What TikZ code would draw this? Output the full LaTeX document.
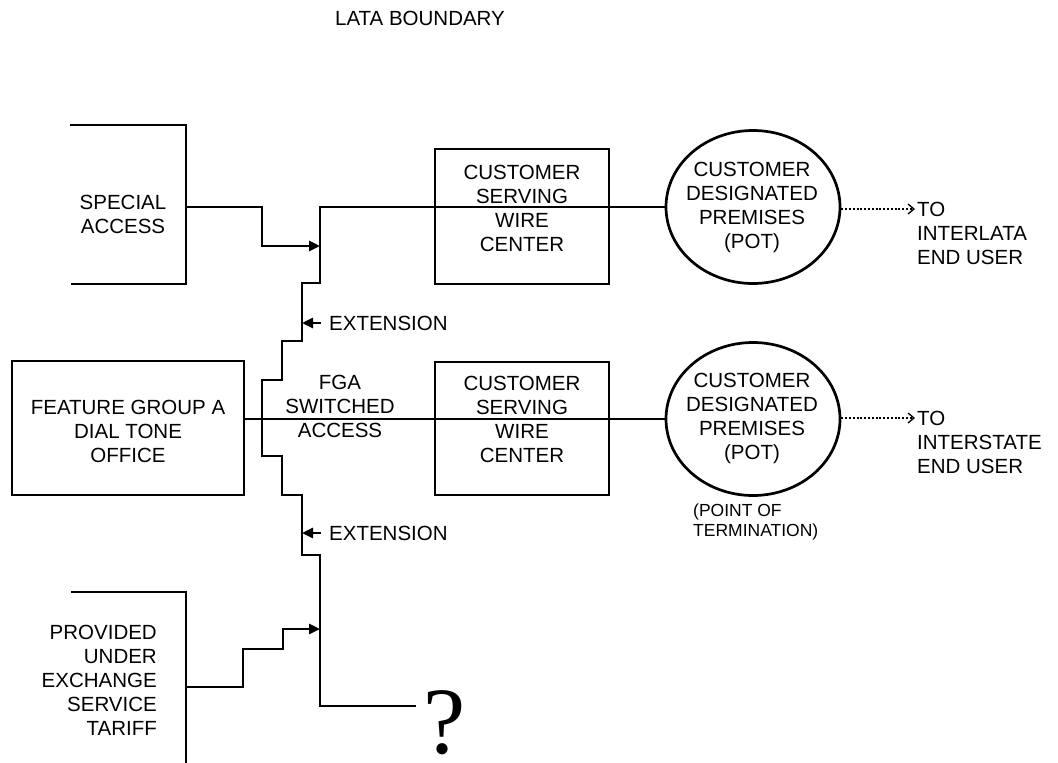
\documentclass[tikz,border=0pt]{standalone}
\usepackage{fontspec}
\setmainfont{Liberation Sans}
\newfontfamily\serifq{Liberation Serif}
\usetikzlibrary{shapes.geometric,arrows.meta}
\begin{document}
\begin{tikzpicture}[x=1pt,y=-1pt,
  ln/.style={line width=2.7pt},
  txt/.style={font=\fontsize{20.5}{24}\selectfont, align=center, inner sep=0pt},
  smalltxt/.style={font=\fontsize{17.5}{20}\selectfont, align=left, inner sep=0pt},
  boxnode/.style={ln, draw, rectangle, inner sep=0pt, minimum width=174pt},
  ovalnode/.style={ln, draw, ellipse, inner sep=0pt, minimum width=174pt, minimum height=153pt},
  tipline/.style={ln, -{Triangle[length=11pt,width=10pt]}},
  dotline/.style={line width=2.6pt, dash pattern=on 2pt off 1.8pt,
    -{Straight Barb[length=6pt,width=10pt,line width=1.3pt]}}
]
\useasboundingbox (0,0) rectangle (1058,763);

% title
\node[txt] (lata) at (420,18) {LATA BOUNDARY};

% special access bracket
\coordinate (saA) at (70,125);
\coordinate (saB) at (186,125);
\coordinate (saC) at (186,284);
\coordinate (saD) at (71,284);
\draw[ln] (saA) -- (saB) -- (saC) -- (saD);
\node[txt] (satext) at (123,214) {SPECIAL\\ACCESS};
\coordinate (saOut) at (186,207);

% provided under exchange bracket
\coordinate (peA) at (71,592);
\coordinate (peB) at (186,592);
\coordinate (peC) at (186,763);
\draw[ln] (peA) -- (peB) -- (peC);
\node[txt, align=right, anchor=east] (petext) at (157,680) {PROVIDED\\UNDER\\EXCHANGE\\SERVICE\\TARIFF};
\coordinate (peOut) at (186,687);

% feature group A box
\node[boxnode, minimum width=232pt, minimum height=134pt] (fga) at (128,428) {};
\node[txt] (fgatext) at (128,431) {FEATURE GROUP A\\DIAL TONE\\OFFICE};

% wire centers
\node[boxnode, minimum height=135pt] (wc1) at (522,216.5) {};
\node[txt] (wc1text) at (522,208) {CUSTOMER\\SERVING\\WIRE\\CENTER};
\node[boxnode, minimum height=133pt] (wc2) at (522,428.5) {};
\node[txt] (wc2text) at (522,419.5) {CUSTOMER\\SERVING\\WIRE\\CENTER};

% premises ellipses
\node[ovalnode] (e1) at (753,207) {};
\node[txt] (e1text) at (752,207) {CUSTOMER\\DESIGNATED\\PREMISES\\(POT)};
\node[ovalnode] (e2) at (753,419) {};
\node[txt] (e2text) at (752,418) {CUSTOMER\\DESIGNATED\\PREMISES\\(POT)};
\node[smalltxt, anchor=north west] (pot) at (693,504) {(POINT OF\\TERMINATION)};

% end user labels
\node[txt, align=left, anchor=west] (eu1) at (917,233) {TO\\INTERLATA\\END USER};
\node[txt, align=left, anchor=west] (eu2) at (917,442) {TO\\INTERSTATE\\END USER};
\coordinate (eu1tip) at (915,209);
\coordinate (eu2tip) at (915,418);
\draw[dotline] (e1.east |- eu1tip) -- (eu1tip);
\draw[dotline] (e2.east |- eu2tip) -- (eu2tip);

% FGA switched access label
\node[txt] (fgalabel) at (340,406) {FGA\\SWITCHED\\ACCESS};

% trunk
\coordinate (tTop) at (320,207);
\coordinate (tEnd) at (416,706);
\draw[ln, line join=miter] (e1.west) -- (tTop) -- (320,283) -- (302,283) -- (302,341) -- (282,341)
  -- (282,380) -- (262,380) -- (262,456) -- (282,456) -- (282,495) -- (302,495)
  -- (302,555) -- (320,555) -- (320,706) -- (tEnd);

% FGA line
\draw[ln] (fga.east |- e2.west) -- (e2.west);

% special access feed
\coordinate (saIn) at (320,246);
\draw[tipline] (saOut) -- (262,207) -- (262,246) -- (saIn);

% exchange feed
\coordinate (peIn) at (320,629);
\draw[tipline] (peOut) -- (243,687) -- (243,649) -- (283,649) -- (283,629) -- (peIn);

% extensions
\coordinate (x1a) at (321,323);
\coordinate (x1b) at (302,323);
\coordinate (x2a) at (321,533);
\coordinate (x2b) at (302,533);
\draw[tipline] (x1a) -- (x1b);
\draw[tipline] (x2a) -- (x2b);
\node[txt, anchor=west] (ext1) at (329,323) {EXTENSION};
\node[txt, anchor=west] (ext2) at (329,533) {EXTENSION};

% question mark
\node[inner sep=0pt, anchor=base, text depth=0pt] (qm) at (445,753) {\serifq\fontsize{95}{95}\selectfont ?};
\end{tikzpicture}
\end{document}
